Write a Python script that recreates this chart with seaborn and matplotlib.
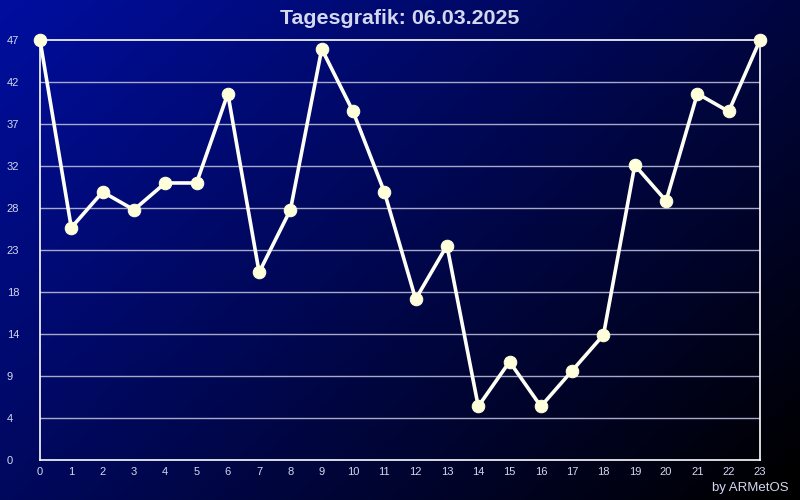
"""Daily chart (Tagesgrafik) recreated with seaborn."""

import matplotlib

matplotlib.use("Agg")

import matplotlib.pyplot as plt
import numpy as np
import pandas as pd
import seaborn as sns

TITLE = "Tagesgrafik: 06.03.2025"
CREDIT = "by ARMetOS"

hours = list(range(24))
values = [47, 26, 30, 28, 31, 31, 41, 21, 28, 46, 39, 30,
          18, 24, 6, 11, 6, 10, 14, 33, 29, 41, 39, 47]
y_max = 47
y_ticks = [round(y_max * k / 10, 1) for k in range(11)]
y_tick_labels = [str(int(t)) for t in y_ticks]

TEXT_COLOR = "#d4d8ee"
LINE_COLOR = "#fffff4"
MARKER_COLOR = "#ffffdc"
GRID_COLOR = "#a8a8c8"

sns.set_theme(style="dark")
plt.rcParams["font.family"] = ["Liberation Sans", "DejaVu Sans"]

fig = plt.figure(figsize=(8, 5), dpi=100)

# background gradient: blue top-left fading to black bottom-right
bg = fig.add_axes([0, 0, 1, 1], zorder=0)
gx, gy = np.meshgrid(np.linspace(0, 1, 400), np.linspace(0, 1, 250))
fade = np.clip(1 - (0.6 * gx + 0.42 * gy), 0, 1)
top_left = np.array([0, 14, 160]) / 255
gradient = fade[..., None] * top_left
bg.imshow(gradient, aspect="auto", extent=[0, 1, 0, 1], origin="upper")
bg.set_axis_off()

ax = fig.add_axes([0.05, 0.08, 0.90, 0.84], zorder=1)
ax.set_facecolor("none")

frame = pd.DataFrame({"hour": hours, "value": values})
sns.lineplot(data=frame, x="hour", y="value", ax=ax, color=LINE_COLOR,
             linewidth=2.6, marker="o", markersize=9,
             markerfacecolor=MARKER_COLOR, markeredgecolor=MARKER_COLOR,
             zorder=3, clip_on=False)

ax.set_xlim(0, 23)
ax.set_ylim(0, y_max)
ax.set_xticks(hours)
ax.set_xticklabels([str(h) for h in hours])
ax.set_yticks(y_ticks)
ax.set_yticklabels(y_tick_labels)
ax.set_xlabel("")
ax.set_ylabel("")

ax.grid(False)
for t in y_ticks[1:-1]:
    ax.axhline(t, color=GRID_COLOR, linewidth=1, zorder=1)

for spine in ax.spines.values():
    spine.set_visible(True)
    spine.set_color("white")
    spine.set_linewidth(1.2)

ax.tick_params(axis="both", length=0, colors=TEXT_COLOR, labelsize=8)
ax.tick_params(axis="x", pad=5)
ax.tick_params(axis="y", pad=24)
for label in ax.get_yticklabels():
    label.set_horizontalalignment("left")

fig.text(0.5, 0.963, TITLE, ha="center", va="center", fontsize=15.4,
         fontweight="bold", color=TEXT_COLOR)
fig.text(0.986, 0.024, CREDIT, ha="right", va="center", fontsize=9.5,
         color=TEXT_COLOR)

fig.savefig("out.png", dpi=100)
plt.close(fig)
